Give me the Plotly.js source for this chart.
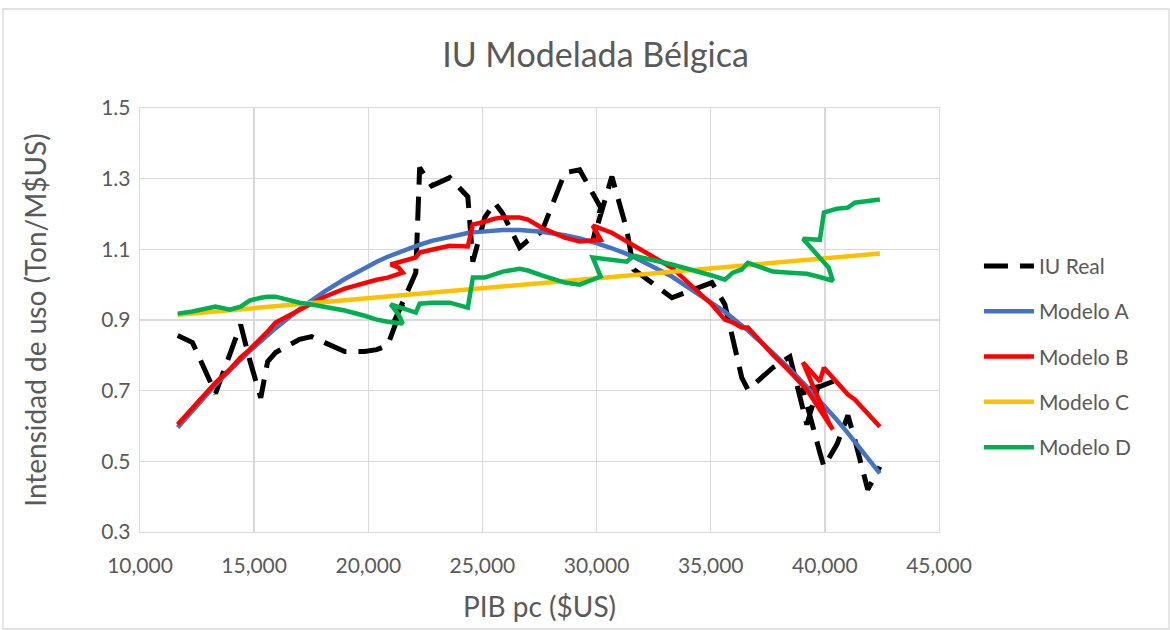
<!DOCTYPE html>
<html>
<head>
<meta charset="utf-8">
<script src="https://cdn.plot.ly/plotly-3.0.1.min.js"></script>
<style>
  html, body { margin: 0; padding: 0; background: #fff; }
  #chart { width: 1170px; height: 630px; }
</style>
</head>
<body>
<div id="chart"></div>
<script>
// PIB pc ($US), in time order (the line follows the years, so x can step back)
const pibPc = [11650, 12300, 13310, 13930, 14410, 14800, 15290, 15590, 15940, 16990,
  17520, 18090, 18970, 19840, 20370, 20850, 21510, 21330, 20980, 22080,
  22250, 22780, 23570, 24360, 24580, 25100, 25540, 25890, 26630, 26990,
  27600, 28610, 29260, 30180, 29830, 30670, 31320, 31630, 33300, 35050,
  35620, 35970, 36360, 36630, 37720, 38470, 39210, 39690, 40350, 40170,
  39040, 39780, 39960, 40530, 41010, 41310, 41880, 42410];

const iuReal = [0.856, 0.836, 0.692, 0.799, 0.887, 0.788, 0.680, 0.782, 0.808, 0.845,
  0.853, 0.836, 0.811, 0.811, 0.816, 0.828, 0.944, 0.924, 0.873, 1.034,
  1.331, 1.280, 1.303, 1.249, 1.065, 1.190, 1.232, 1.201, 1.105, 1.125,
  1.150, 1.317, 1.325, 1.218, 1.122, 1.306, 1.156, 1.043, 0.963, 1.006,
  0.944, 0.839, 0.737, 0.703, 0.765, 0.796, 0.604, 0.709, 0.726, 0.717,
  0.703, 0.525, 0.485, 0.548, 0.630, 0.562, 0.420, 0.485];

const modeloA = [0.596, 0.645, 0.717, 0.757, 0.788, 0.812, 0.840, 0.858, 0.877, 0.931,
  0.956, 0.981, 1.016, 1.048, 1.065, 1.079, 1.096, 1.092, 1.083, 1.110,
  1.113, 1.124, 1.136, 1.146, 1.148, 1.152, 1.154, 1.155, 1.155, 1.153,
  1.150, 1.140, 1.131, 1.114, 1.121, 1.103, 1.087, 1.078, 1.023, 0.950,
  0.923, 0.905, 0.885, 0.870, 0.807, 0.761, 0.711, 0.678, 0.630, 0.643,
  0.723, 0.671, 0.659, 0.617, 0.580, 0.556, 0.510, 0.466];

const modeloB = [0.604, 0.652, 0.723, 0.760, 0.794, 0.816, 0.845, 0.867, 0.893, 0.929,
  0.946, 0.966, 0.989, 1.006, 1.014, 1.020, 1.034, 1.048, 1.057, 1.077,
  1.091, 1.099, 1.110, 1.108, 1.170, 1.178, 1.187, 1.190, 1.190, 1.184,
  1.161, 1.133, 1.122, 1.127, 1.167, 1.147, 1.122, 1.113, 1.048, 0.944,
  0.901, 0.893, 0.879, 0.879, 0.802, 0.754, 0.703, 0.655, 0.590, 0.610,
  0.780, 0.726, 0.765, 0.723, 0.689, 0.675, 0.635, 0.598];

const modeloC = [0.915, 0.919, 0.924, 0.928, 0.931, 0.933, 0.935, 0.937, 0.939, 0.945,
  0.948, 0.951, 0.956, 0.961, 0.964, 0.967, 0.970, 0.970, 0.968, 0.974,
  0.975, 0.978, 0.982, 0.987, 0.988, 0.991, 0.993, 0.995, 0.999, 1.001,
  1.005, 1.010, 1.014, 1.019, 1.017, 1.022, 1.026, 1.027, 1.037, 1.047,
  1.050, 1.052, 1.054, 1.056, 1.062, 1.066, 1.070, 1.073, 1.076, 1.075,
  1.069, 1.073, 1.074, 1.077, 1.080, 1.082, 1.085, 1.088];

const modeloD = [0.918, 0.924, 0.938, 0.929, 0.938, 0.955, 0.963, 0.966, 0.966, 0.949,
  0.944, 0.938, 0.927, 0.912, 0.901, 0.895, 0.890, 0.915, 0.944, 0.921,
  0.946, 0.949, 0.949, 0.935, 1.020, 1.020, 1.031, 1.037, 1.045, 1.040,
  1.026, 1.006, 1.000, 1.023, 1.077, 1.071, 1.065, 1.082, 1.057, 1.026,
  1.014, 1.034, 1.043, 1.062, 1.037, 1.034, 1.031, 1.023, 1.011, 1.048,
  1.130, 1.127, 1.204, 1.215, 1.218, 1.232, 1.238, 1.241];

const seriesNames = ['IU Real', 'Modelo A', 'Modelo B', 'Modelo C', 'Modelo D'];
const seriesValues = [iuReal, modeloA, modeloB, modeloC, modeloD];
const seriesColors = ['#000000', '#4472C4', '#FF0000', '#FFC000', '#00B050'];
const seriesDash = ['24px,12px', 'solid', 'solid', 'solid', 'solid'];
const seriesWidth = [5, 4.5, 4.5, 4.5, 4.5];

const yTickVals = [0.3, 0.5, 0.7, 0.9, 1.1, 1.3, 1.5];
const xTickVals = [10000, 15000, 20000, 25000, 30000, 35000, 40000, 45000];

const FONT = 'Lato, "Open Sans", sans-serif';
const TXT = '#595959';

const traces = seriesNames.map((name, i) => ({
  type: 'scatter',
  mode: 'lines',
  name: name,
  legendgroup: 'g' + i,
  x: pibPc,
  y: seriesValues[i],
  line: { color: seriesColors[i], width: seriesWidth[i], dash: seriesDash[i] },
  hoverinfo: 'skip'
}));

const layout = {
  width: 1170,
  height: 630,
  paper_bgcolor: '#ffffff',
  plot_bgcolor: '#ffffff',
  margin: { l: 140, r: 231, t: 108, b: 98 },
  font: { family: FONT, color: TXT },
  title: {
    text: 'IU Modelada Bélgica',
    font: { family: FONT, size: 34, color: TXT },
    x: 0.509, xanchor: 'center',
    y: 1 - 55 / 630, yanchor: 'middle'
  },
  xaxis: {
    range: [10000, 45000],
    tickvals: xTickVals,
    tickformat: ',',
    showgrid: true, gridcolor: '#D9D9D9', gridwidth: 1.3,
    showline: true, linecolor: '#D9D9D9', linewidth: 1.3, mirror: true,
    zeroline: false,
    ticks: '',
    ticklabelstandoff: 14,
    tickfont: { family: FONT, size: 21, color: TXT },
    title: { text: 'PIB pc ($US)', font: { family: FONT, size: 28, color: TXT }, standoff: 22 },
    automargin: false
  },
  yaxis: {
    range: [0.3, 1.5],
    tickvals: yTickVals,
    ticktext: yTickVals.map(v => v.toFixed(1)),
    showgrid: true, gridcolor: '#D9D9D9', gridwidth: 1.3,
    showline: true, linecolor: '#D9D9D9', linewidth: 1.3, mirror: true,
    zeroline: false,
    ticks: '',
    ticklabelstandoff: 4,
    tickfont: { family: FONT, size: 21, color: TXT },
    title: { text: 'Intensidad de uso (Ton/M$US)', font: { family: FONT, size: 28, color: TXT }, standoff: 46 },
    automargin: false
  },
  showlegend: true,
  legend: {
    x: 1.05, xanchor: 'left',
    y: 0.675, yanchor: 'top',
    font: { family: FONT, size: 21, color: TXT },
    itemwidth: 50,
    tracegroupgap: 15,
    bgcolor: 'rgba(0,0,0,0)'
  },
  shapes: [{
    type: 'rect', xref: 'paper', yref: 'paper',
    x0: (3 - 140) / 799, x1: (1169 - 140) / 799,
    y0: (532 - 629) / 424, y1: (532 - 9) / 424,
    line: { color: '#D9D9D9', width: 1.3 },
    fillcolor: 'rgba(0,0,0,0)', layer: 'below'
  }]
};

Plotly.newPlot('chart', traces, layout, { staticPlot: true, displayModeBar: false });
</script>
</body>
</html>
